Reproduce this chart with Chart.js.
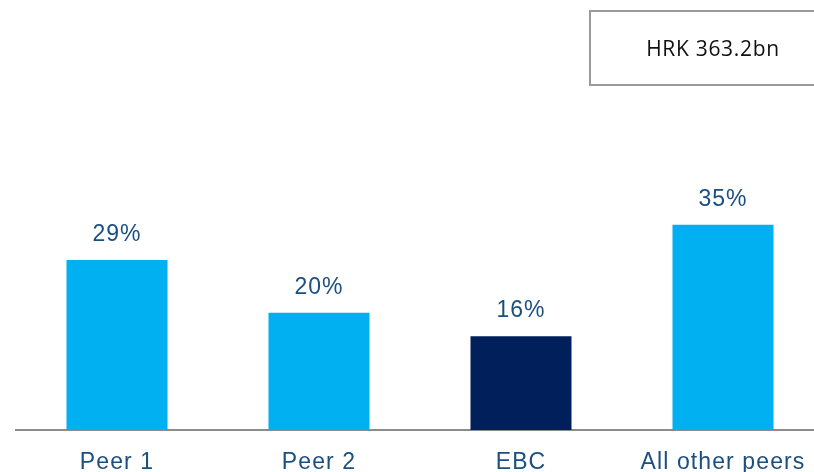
<!DOCTYPE html>
<html>
<head>
<meta charset="utf-8">
<script src="https://cdn.jsdelivr.net/npm/chart.js@4"></script>
<style>
  html, body { margin: 0; padding: 0; overflow: hidden; background: #fff; width: 814px; height: 472px; }
  #wrap { position: absolute; left: 0; top: 0; width: 830px; height: 472px; }
  #box { position: absolute; left: 589px; top: 10px; width: 244px; height: 72px; border: 2px solid #9a9a9a;
         font-family: "Open Sans", sans-serif; font-size: 21px; letter-spacing: 0.7px; color: #111; display: flex; align-items: center; justify-content: center; box-sizing: content-box; }
</style>
</head>
<body>
<div id="wrap"><canvas id="c" width="830" height="472"></canvas></div>
<div id="box">HRK 363.2bn</div>
<script>
const categories = ["Peer 1", "Peer 2", "EBC", "All other peers"];
const shares = [29, 20, 16, 35];
const barColors = ["#00B0F0", "#00B0F0", "#001F5B", "#00B0F0"];

const spacing = {
  id: 'spacing',
  beforeDraw(chart) { chart.ctx.letterSpacing = '1.1px'; }
};

const valueLabels = {
  id: 'valueLabels',
  afterDatasetsDraw(chart) {
    const ctx = chart.ctx;
    const meta = chart.getDatasetMeta(0);
    ctx.save();
    ctx.letterSpacing = '1px';
    ctx.font = '23px "Liberation Sans", Arial, sans-serif';
    ctx.fillStyle = '#1A4F80';
    ctx.textAlign = 'center';
    ctx.textBaseline = 'middle';
    meta.data.forEach((bar, i) => {
      ctx.fillText(shares[i] + '%', bar.x, bar.y - 25);
    });
    ctx.restore();
  }
};

new Chart(document.getElementById('c'), {
  type: 'bar',
  data: {
    labels: categories,
    datasets: [{ data: shares, backgroundColor: barColors, borderWidth: 0, categoryPercentage: 1, barPercentage: 0.5 }]
  },
  options: {
    responsive: false,
    animation: false,
    layout: { padding: { left: 16, right: 6, top: 0, bottom: -23 } },
    plugins: { legend: { display: false }, tooltip: { enabled: false } },
    scales: {
      y: { display: false, min: 0, max: 73.3 },
      x: {
        grid: { display: false, drawTicks: false },
        border: { display: true, color: '#8C8C8C', width: 2 },
        ticks: { color: '#1A4F80', padding: 21, font: { family: '"Liberation Sans", Arial, sans-serif', size: 23, lineHeight: 1 }, maxRotation: 0, autoSkip: false }
      }
    }
  },
  plugins: [spacing, valueLabels]
});
</script>
</body>
</html>
